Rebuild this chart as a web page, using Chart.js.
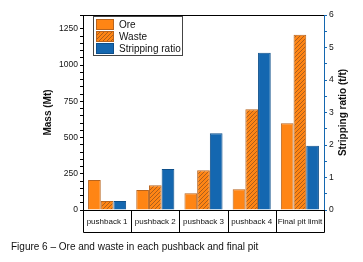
<!DOCTYPE html>
<html><head><meta charset="utf-8">
<script src="https://cdn.jsdelivr.net/npm/chart.js@4.4.1/dist/chart.umd.min.js"></script>
<style>html,body{margin:0;padding:0;background:#fff;}#wrap{width:363px;height:262px;position:relative;}</style>
</head><body><div id="wrap"><canvas id="c" width="363" height="262"></canvas></div>
<script>
const categories = ['pushback 1','pushback 2','pushback 3','pushback 4','Final pit limit'];
const oreMt = [207, 138, 115, 143, 599];
const wasteMt = [62, 170, 274, 695, 1208];
const strippingRatio = [0.28, 1.26, 2.36, 4.84, 1.98];
const seriesNames = ['Ore','Waste','Stripping ratio'];
const leftTitle = 'Mass (Mt)';
const rightTitle = 'Stripping ratio (t/t)';
const caption = 'Figure 6 \u2013 Ore and waste in each pushback and final pit';

const ORANGE = '#FF8514';
const ORANGE_EDGE = '#B8641E';
const BLUE = '#1467B0';
const BLUE_EDGE = '#0E4F8A';
const FONT = '"Liberation Sans", Arial, sans-serif';

function hatch(){
  const s = 4, c = document.createElement('canvas');
  c.width = s; c.height = s;
  const g = c.getContext('2d');
  g.fillStyle = ORANGE; g.fillRect(0,0,s,s);
  g.strokeStyle = '#A45A1C'; g.lineWidth = 0.9;
  g.beginPath();
  g.moveTo(0,s); g.lineTo(s,0);
  g.moveTo(-1,1); g.lineTo(1,-1);
  g.moveTo(s-1,s+1); g.lineTo(s+1,s-1);
  g.stroke();
  return g.createPattern(c,'repeat');
}
const hatchFill = hatch();

const decor = {
  id:'decor',
  afterDraw(chart){
    const ctx = chart.ctx, a = chart.chartArea, x = chart.scales.x;
    const boxBottom = a.bottom + 22;
    ctx.save();
    ctx.lineWidth = 1;
    ctx.strokeStyle = '#000';
    ctx.beginPath(); ctx.moveTo(a.left, a.top+0.5); ctx.lineTo(a.right, a.top+0.5); ctx.stroke();
    ctx.beginPath();
    ctx.moveTo(a.left+0.5, a.top); ctx.lineTo(a.left+0.5, boxBottom+0.5);
    ctx.lineTo(a.right+0.5, boxBottom+0.5); ctx.lineTo(a.right+0.5, a.bottom);
    ctx.moveTo(a.left, a.bottom+0.5); ctx.lineTo(a.right, a.bottom+0.5);
    const n = categories.length;
    for(let i=1;i<n;i++){
      const px = Math.round((x.getPixelForValue(i-1)+x.getPixelForValue(i))/2)+0.5;
      ctx.moveTo(px, a.bottom); ctx.lineTo(px, boxBottom);
    }
    ctx.stroke();
    // legend
    const lx = 93.5, ly = 16.5, lw = 89, lh = 39;
    ctx.fillStyle = '#fff'; ctx.fillRect(lx, ly, lw, lh);
    ctx.strokeStyle = '#444'; ctx.strokeRect(lx, ly, lw, lh);
    chart.data.datasets.forEach((ds,i)=>{
      const sy = 19 + i*12;
      ctx.fillStyle = ds.backgroundColor;
      ctx.fillRect(96, sy, 18, 11);
      ctx.strokeStyle = ds.borderColor; ctx.strokeRect(96.5, sy+0.5, 17, 10);
      ctx.fillStyle = '#111'; ctx.font = '10px '+FONT; ctx.textBaseline='middle'; ctx.textAlign='left';
      ctx.fillText(ds.label, 119, sy+6);
    });
    // axis titles
    const midY = (a.top + a.bottom)/2;
    ctx.fillStyle = '#111'; ctx.font = 'bold 10px '+FONT; ctx.textAlign='center'; ctx.textBaseline='middle';
    ctx.save(); ctx.translate(48, midY); ctx.rotate(-Math.PI/2); ctx.fillText(leftTitle, 0, 0); ctx.restore();
    ctx.save(); ctx.translate(343, midY); ctx.rotate(-Math.PI/2); ctx.fillText(rightTitle, 0, 0); ctx.restore();
    // caption
    ctx.fillStyle = '#111'; ctx.font = '10px '+FONT; ctx.textAlign='left'; ctx.textBaseline='middle';
    ctx.fillText(caption, 11, 247);
    ctx.restore();
  }
};

new Chart(document.getElementById('c'), {
  type:'bar',
  data:{
    labels: categories,
    datasets:[
      {label:seriesNames[0], data:oreMt, yAxisID:'y', backgroundColor:ORANGE, borderColor:ORANGE_EDGE, borderWidth:1},
      {label:seriesNames[1], data:wasteMt, yAxisID:'y', backgroundColor:hatchFill, borderColor:ORANGE_EDGE, borderWidth:1},
      {label:seriesNames[2], data:strippingRatio, yAxisID:'y2', backgroundColor:BLUE, borderColor:BLUE_EDGE, borderWidth:1}
    ]
  },
  options:{
    responsive:false, animation:false, devicePixelRatio:1,
    layout:{padding:{top:15,left:0,right:0,bottom:0}},
    datasets:{bar:{categoryPercentage:0.79, barPercentage:1}},
    plugins:{legend:{display:false}, tooltip:{enabled:false}},
    scales:{
      x:{
        grid:{display:false, drawTicks:false},
        border:{display:false},
        ticks:{font:{family:FONT,size:8}, color:'#111', padding:7, maxRotation:0, autoSkip:false},
        afterFit(s){ s.height = 52; }
      },
      y:{
        position:'left', min:0, max:1345,
        grid:{drawOnChartArea:false, tickLength:3, color:'#000'},
        border:{display:true, color:'#000'},
        ticks:{stepSize:50, autoSkip:false, font:{family:FONT,size:8.5}, color:'#111', padding:2,
          callback:v => (v % 250 === 0 ? String(v) : '')},
        afterFit(s){ s.width = 83; }
      },
      y2:{
        position:'right', min:0, max:6,
        grid:{drawOnChartArea:false, tickLength:3, color:BLUE},
        border:{display:true, color:BLUE},
        ticks:{stepSize:0.5, autoSkip:false, font:{family:FONT,size:8.5}, color:'#111', padding:2,
          callback:v => (Number.isInteger(v) ? String(v) : '')},
        afterFit(s){ s.width = 39; }
      }
    }
  },
  plugins:[decor]
});
</script></body></html>
